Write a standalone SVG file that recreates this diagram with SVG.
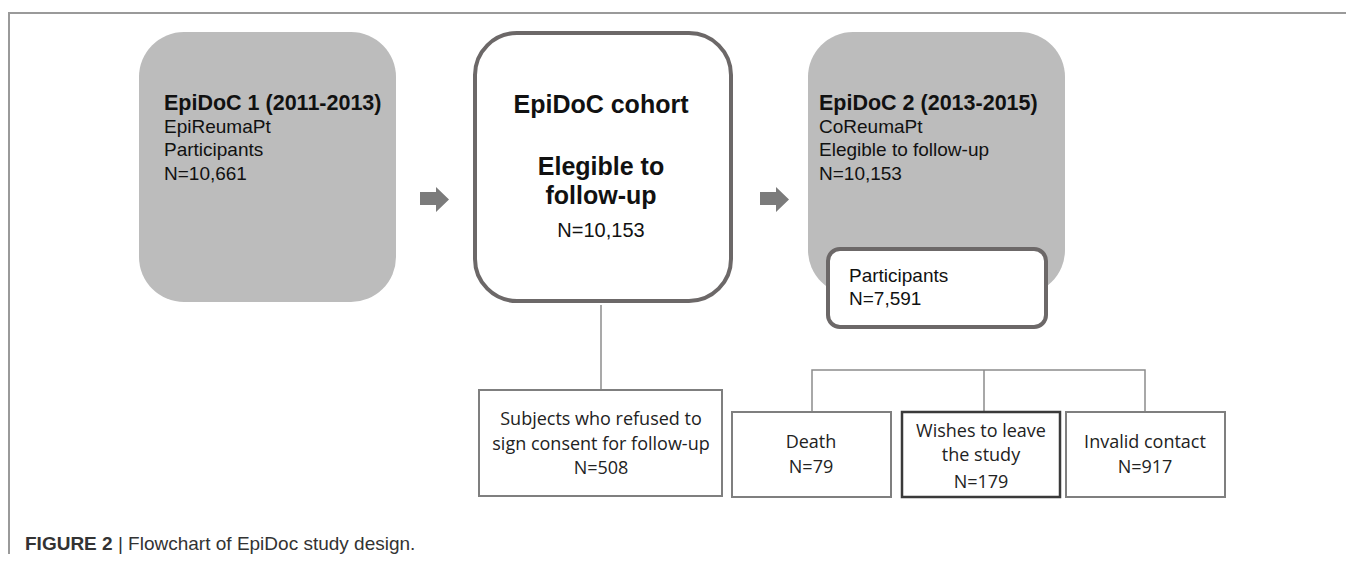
<svg xmlns="http://www.w3.org/2000/svg" width="1346" height="566" viewBox="0 0 1346 566">
<defs>
<style>
.frame{stroke:#9a9a9a;stroke-width:2;fill:none}
.grey{fill:#bcbcbc}
.whitebox{fill:#fff;stroke:#6c6868;stroke-width:4}
.sq{fill:#fff;stroke:#7f7f7f;stroke-width:2}
.sqd{fill:#fff;stroke:#3a3a3a;stroke-width:2.5}
.conn{stroke:#8c8c8c;stroke-width:1.5;fill:none}
.arrow{fill:#7b7b7b}
.hb{font-family:"Liberation Sans",Arial,sans-serif;font-weight:bold;font-size:21.5px;fill:#111}
.big{font-family:"Liberation Sans",Arial,sans-serif;font-weight:bold;font-size:25px;fill:#111;text-anchor:middle}
.hr{font-family:"Liberation Sans",Arial,sans-serif;font-size:19px;fill:#111}
.hr20{font-family:"Liberation Sans",Arial,sans-serif;font-size:20px;fill:#111;text-anchor:middle}
.cal{font-family:"Open Sans","Noto Sans",sans-serif;font-size:18px;fill:#222;text-anchor:middle}
.cap{font-family:"Liberation Sans",Arial,sans-serif;font-size:19px;fill:#333}
</style>
</defs>
<path class="frame" d="M9,554 V13 H1346"/>
<g id="connectors">
<line class="conn" x1="601" y1="305" x2="601" y2="390"/>
<path class="conn" d="M812,412 V370 H1145 V412 M984,370 V412"/>
<path class="arrow" d="M420,192 H436 V187 L449,199.5 L436,212 V205 H420 Z"/>
<path class="arrow" d="M760,192 H776 V187 L789,199.5 L776,212 V205 H760 Z"/>
</g>
<g id="epidoc1">
<rect class="grey" x="139" y="32" width="257" height="270" rx="45"/>
<text class="hb" x="164" y="110">EpiDoC 1 (2011-2013)</text>
<text class="hr" x="164" y="133">EpiReumaPt</text>
<text class="hr" x="164" y="156">Participants</text>
<text class="hr" x="164" y="180">N=10,661</text>
</g>
<g id="cohort">
<rect class="whitebox" x="475" y="33" width="256" height="268" rx="42"/>
<text class="big" x="601" y="113">EpiDoC cohort</text>
<text class="big" x="601" y="175">Elegible to</text>
<text class="big" x="601" y="204">follow-up</text>
<text class="hr20" x="601" y="237">N=10,153</text>
</g>
<g id="epidoc2">
<rect class="grey" x="808" y="32" width="257" height="263" rx="45"/>
<text class="hb" x="819" y="110">EpiDoC 2 (2013-2015)</text>
<text class="hr" x="819" y="133">CoReumaPt</text>
<text class="hr" x="819" y="156">Elegible to follow-up</text>
<text class="hr" x="819" y="180">N=10,153</text>
</g>
<g id="participants">
<rect class="whitebox" x="828" y="249" width="218" height="78" rx="12"/>
<text class="hr" x="849" y="282">Participants</text>
<text class="hr" x="849" y="305">N=7,591</text>
</g>
<g id="refused">
<rect class="sq" x="479" y="390" width="243" height="106"/>
<text class="cal" x="601" y="425">Subjects who refused to</text>
<text class="cal" x="601" y="450">sign consent for follow-up</text>
<text class="cal" x="601" y="474">N=508</text>
</g>
<g id="death">
<rect class="sq" x="732" y="412" width="159" height="85"/>
<text class="cal" x="811" y="448">Death</text>
<text class="cal" x="811" y="473">N=79</text>
</g>
<g id="wishes">
<rect class="sqd" x="902" y="412" width="158" height="85"/>
<text class="cal" x="981" y="437">Wishes to leave</text>
<text class="cal" x="981" y="461">the study</text>
<text class="cal" x="981" y="488">N=179</text>
</g>
<g id="invalid">
<rect class="sq" x="1066" y="412" width="159" height="85"/>
<text class="cal" x="1145" y="448">Invalid contact</text>
<text class="cal" x="1145" y="473">N=917</text>
</g>
<text class="cap" x="25" y="550"><tspan font-weight="bold">FIGURE 2</tspan> | Flowchart of EpiDoc study design.</text>
</svg>
